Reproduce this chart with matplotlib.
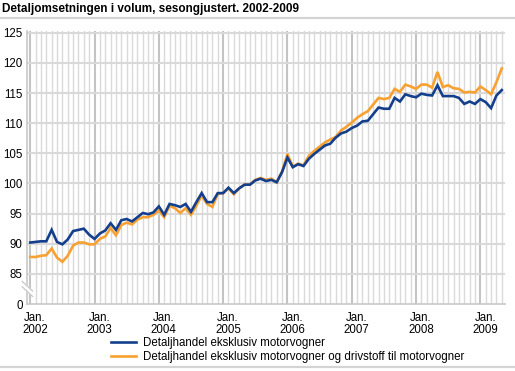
import matplotlib
matplotlib.use("Agg")
import matplotlib.pyplot as plt
import numpy as np

plt.rcParams['font.family'] = ['Liberation Sans', 'DejaVu Sans']

title = "Detaljomsetningen i volum, sesongjustert. 2002-2009"
series_names = ["Detaljhandel eksklusiv motorvogner",
                "Detaljhandel eksklusiv motorvogner og drivstoff til motorvogner"]
years = [2002, 2003, 2004, 2005, 2006, 2007, 2008, 2009]

# Monthly values, Jan 2002 - May 2009
blue = [90.2, 90.3, 90.4, 90.4, 92.3, 90.3, 89.9, 90.7, 92.1, 92.3, 92.5, 91.5,
        90.8, 91.7, 92.2, 93.4, 92.3, 93.9, 94.1, 93.7, 94.4, 95.1, 94.9, 95.2,
        96.2, 94.8, 96.6, 96.4, 96.1, 96.6, 95.3, 96.9, 98.4, 96.9, 96.9, 98.4,
        98.4, 99.3, 98.4, 99.2, 99.8, 99.8, 100.5, 100.8, 100.4, 100.6, 100.2, 101.9,
        104.3, 102.7, 103.2, 102.9, 104.1, 104.9, 105.6, 106.3, 106.6, 107.6, 108.3, 108.6,
        109.2, 109.6, 110.3, 110.4, 111.5, 112.6, 112.4, 112.4, 114.2, 113.6, 114.8, 114.5,
        114.3, 114.9, 114.7, 114.6, 116.3, 114.5, 114.5, 114.5, 114.2, 113.2, 113.6, 113.2,
        114.0, 113.5, 112.5, 114.6, 115.5]
orange = [87.8, 87.8, 88.0, 88.1, 89.2, 87.7, 87.0, 88.0, 89.7, 90.2, 90.2, 89.9,
          89.9, 90.8, 91.2, 92.6, 91.4, 93.1, 93.5, 93.2, 94.0, 94.4, 94.4, 94.8,
          95.5, 94.4, 96.3, 95.9, 95.1, 95.9, 94.8, 96.3, 98.0, 96.6, 96.1, 98.3,
          98.4, 99.2, 98.2, 99.2, 99.8, 99.8, 100.6, 100.9, 100.6, 100.8, 100.2, 102.0,
          104.9, 102.8, 103.3, 103.0, 104.6, 105.4, 106.1, 106.8, 107.3, 107.7, 108.8, 109.4,
          110.1, 110.9, 111.5, 112.0, 113.1, 114.2, 114.0, 114.2, 115.7, 115.2, 116.4, 116.1,
          115.7, 116.4, 116.4, 115.9, 118.5, 116.0, 116.3, 115.8, 115.7, 115.1, 115.2, 115.1,
          116.1, 115.5, 114.8, 116.8, 119.1]

ytick_vals = [80, 85, 90, 95, 100, 105, 110, 115, 120, 125]
ytick_labels = ["0", "85", "90", "95", "100", "105", "110", "115", "120", "125"]

BLUE = "#133f8c"
ORANGE = "#f7a131"

fig = plt.figure(figsize=(5.15, 3.71), dpi=100)
ax = fig.add_axes([27/515, 1-304/371, 478/515, 273/371])

x = np.arange(len(blue))

# grid
for m in range(0, 89):
    if m % 12 == 0:
        ax.axvline(m, color="#c4c4c4", lw=1.5, zorder=1)
    else:
        ax.axvline(m, color="#dadada", lw=1.0, zorder=1)
for v in ytick_vals[1:]:
    ax.axhline(v, color="#d9d9d9", lw=1.5, zorder=1)

l1, = ax.plot(x, blue, color=BLUE, lw=1.9, zorder=4, solid_joinstyle="miter")
l2, = ax.plot(x, orange, color=ORANGE, lw=1.9, zorder=3, solid_joinstyle="miter")

ax.set_xlim(-0.6, 88.6)
ax.set_ylim(80, 125.3)
ax.set_yticks(ytick_vals)
ax.set_yticklabels(ytick_labels)
ax.set_xticks([12*i + 0.9 for i in range(len(years))])
ax.set_xticklabels([f"Jan.\n{y}" for y in years], linespacing=1.0)
ax.tick_params(axis="both", length=0, labelsize=8.3, colors="#000000")
ax.tick_params(axis="y", pad=3)
ax.tick_params(axis="x", pad=6)
for s in ["top", "right"]:
    ax.spines[s].set_visible(False)
for s in ["left", "bottom"]:
    ax.spines[s].set_color("#c8c8c8")
    ax.spines[s].set_linewidth(1.2)

# axis break mark
ax.plot([-1.5, 0.45], [83.3, 81.7], color="white", lw=3.5, clip_on=False, zorder=6)
ax.plot([-1.5, 0.45], [83.75, 82.15], color="#c8c8c8", lw=0.9, clip_on=False, zorder=7)
ax.plot([-1.5, 0.45], [82.85, 81.25], color="#c8c8c8", lw=0.9, clip_on=False, zorder=7)

fig.text(2/515, 1-9/371, title, fontsize=8.5, fontweight="bold", va="center", ha="left")
fig.add_artist(plt.Line2D([0, 1], [1-17.5/371, 1-17.5/371], color="#d4d4d4", lw=1.6))
fig.add_artist(plt.Line2D([0, 1], [1-367/371, 1-367/371], color="#d4d4d4", lw=1.6))

fig.legend([l1, l2], series_names, loc="upper left",
           bbox_to_anchor=(111/515, 1-337/371), frameon=False, fontsize=8.3,
           handlelength=2.2, handletextpad=0.6, labelspacing=0.15, borderpad=0,
           borderaxespad=0)

fig.savefig("out.png", dpi=100)
